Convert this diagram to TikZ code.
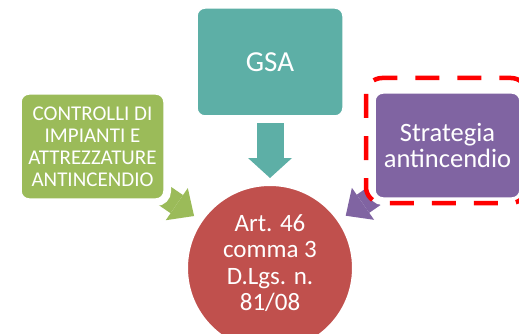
\documentclass[tikz,border=0pt]{standalone}
\usepackage{fontspec}
\setmainfont{Carlito}
\usetikzlibrary{arrows.meta,backgrounds}

\definecolor{verdeC}{HTML}{9BBB59}
\definecolor{tealG}{HTML}{5DAFA6}
\definecolor{viola}{HTML}{8064A2}
\definecolor{rosso}{HTML}{C0504D}

\tikzset{
  caja/.style={rectangle, rounded corners=8pt, draw=white, line width=1.5pt,
    preaction={draw=white, line width=14pt}, text=white, align=center},
  flecha/.style={line width=22pt, -{Triangle[length=21pt,width=39pt,line width=0pt]}}
}

\begin{document}
\begin{tikzpicture}[x=1pt, y=-1pt]
			\useasboundingbox (0,0) rectangle (519,334);

			% Dibujar los bloques
			\node[caja, fill=tealG, minimum width=146pt, minimum height=108pt,
			  font=\fontsize{29}{32}\selectfont] (gsa) at (270,62) {GSA};
			\node[caja, fill=verdeC, minimum width=143pt, minimum height=105pt,
			  font=\fontsize{21}{22}\selectfont] (ctrl) at (92.5,146.5)
			  {CONTROLLI DI\\IMPIANTI E\\ATTREZZATURE\\ANTINCENDIO};
			\node[caja, fill=viola, minimum width=145pt, minimum height=105pt,
			  font=\fontsize{26.5}{26}\selectfont] (strat) at (447.5,145.5)
			  {Strategia\\antincendio};

			% Dibujar el circulo
			\node[circle, fill=rosso, draw=white, line width=2pt, minimum size=166pt,
			  label={[text=white, align=center, yshift=5pt, font=\fontsize{25}{26.5}\selectfont]center:
			  Art. 46\\comma 3\\D.Lgs. n.\\81/08}] (art) at (270,268) {};

			% Dibujar las flechas
			\begin{scope}[on background layer]
			\draw[flecha, tealG, line width=27pt, -{Triangle[length=20pt,width=44pt,line width=0pt]},
			  shorten >=6pt] (gsa) -- (art);
			\draw[flecha, verdeC, shorten >=8pt] (ctrl) -- (art);
			\draw[flecha, viola, shorten >=8pt] (strat) -- (art);
			\end{scope}

			% Marco rojo
			\draw[red, line width=4.5pt, rounded corners=16pt, dash pattern=on 24pt off 18pt]
			  (366,78) rectangle (527,203);
\end{tikzpicture}
\end{document}
